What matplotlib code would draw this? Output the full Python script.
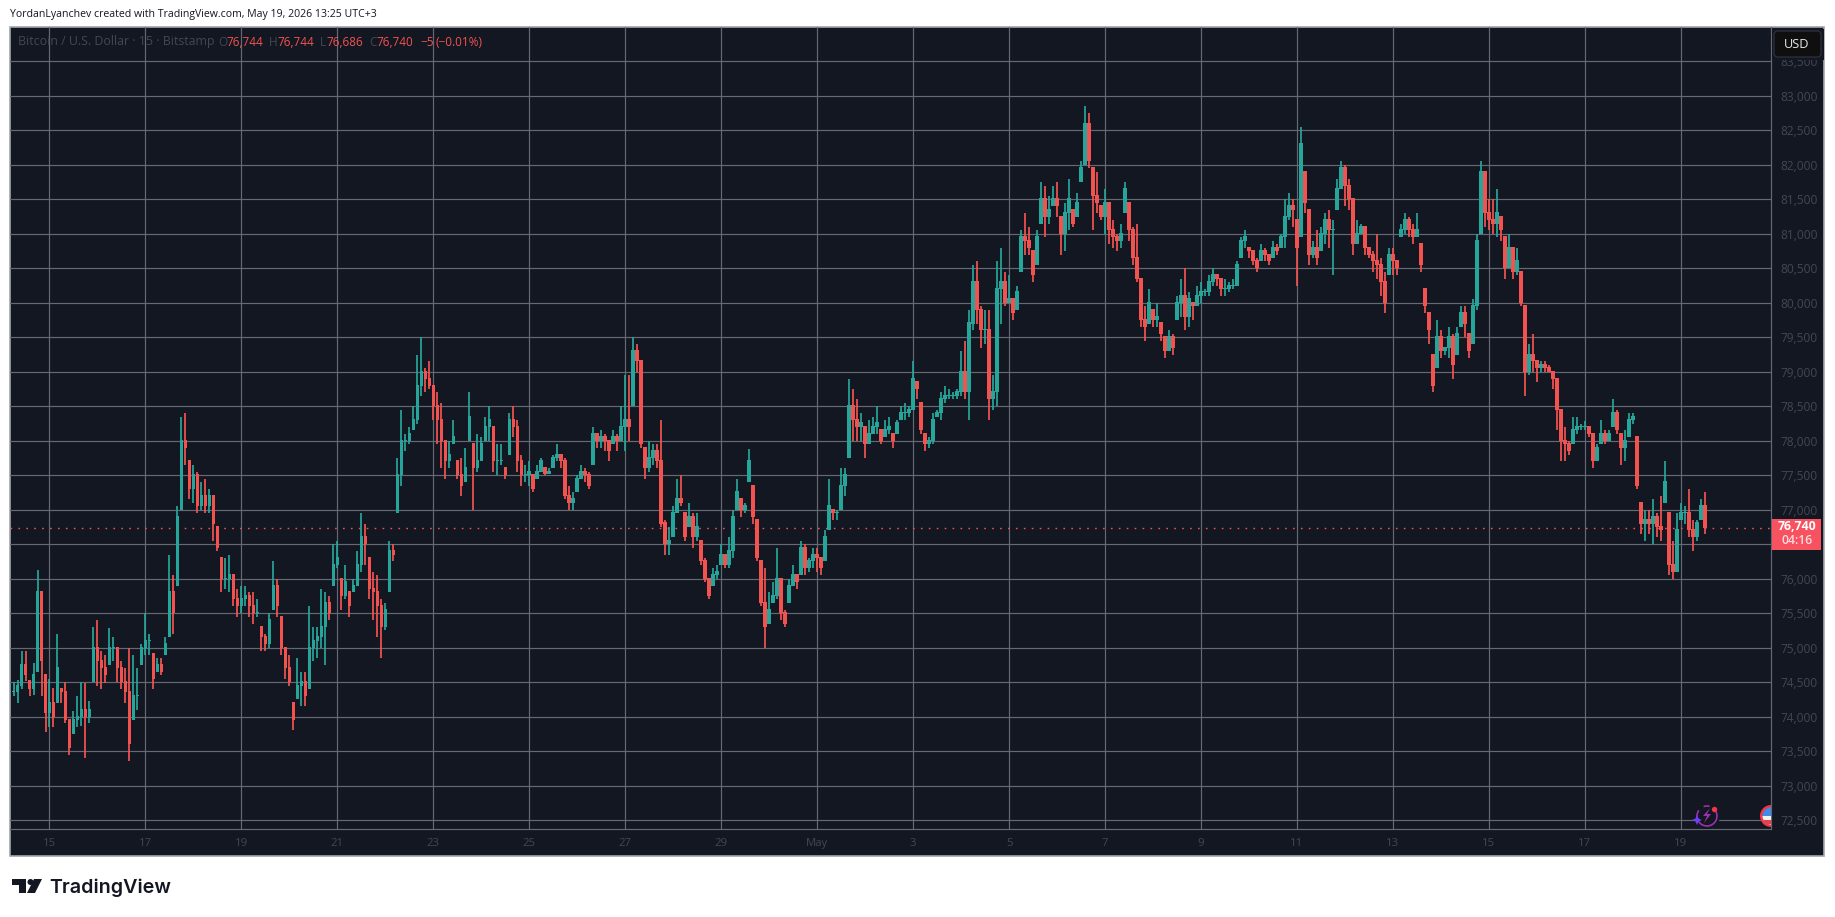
#!/usr/bin/python3
import numpy as np
import pandas as pd
import matplotlib
matplotlib.use('Agg')
import matplotlib.pyplot as plt
import matplotlib.dates as mdates
from matplotlib.patches import Rectangle, Circle, Wedge, Polygon, FancyBboxPatch, Arc
from matplotlib.transforms import Affine2D

# 2 hour candles, one row per day
highs = [
    74500, 74530, 74950, 74950, 74520, 74780, 76120, 75800, 74600,  # Apr 14
    74550, 74420, 75200, 74400, 74500, 73950, 74080, 74300, 74500, 74480, 74220, 75300,  # Apr 15
    75400, 74950, 74900, 75280, 75150, 75000, 74800, 74700, 75000, 74900, 74700, 75050,  # Apr 16
    75500, 75200, 74900, 74850, 74850, 75150, 76350, 76050, 77050, 78350, 78400, 77700,  # Apr 17
    77650, 77550, 77400, 77450, 77300, 77200, 76750, 76300, 76300, 76350, 76050, 75850,  # Apr 18
    75900, 75900, 75800, 75800, 75700, 75300, 75200, 75500, 76250, 76000, 75450, 75000,  # Apr 19
    74900, 74200, 74850, 74650, 74650, 75600, 75300, 75300, 75850, 75800, 75750, 76500,  # Apr 20
    76550, 76000, 76200, 75800, 76000, 76400, 76950, 76800, 76300, 76100, 76050, 75700,  # Apr 21
    75650, 76550, 76500, 77750, 78450, 78100, 78200, 78500, 79250, 79500, 79050, 79150,  # Apr 22
    78800, 78700, 78550, 78000, 78000, 78300, 77700, 77750, 77900, 78700, 77950, 78100,  # Apr 23
    78050, 78350, 78500, 78200, 77950, 77950, 77600, 78400, 78500, 78300, 77800, 77650,  # Apr 24
    77700, 77500, 77650, 77750, 77600, 77600, 77800, 77950, 77800, 77750, 77350, 77250,  # Apr 25
    77500, 77650, 77600, 77550, 78200, 78100, 78150, 78100, 78000, 78150, 78100, 78500,  # Apr 26
    78950, 78950, 79500, 79400, 79150, 77900, 78000, 77950, 77950, 78300, 76850, 76750,  # Apr 27
    77050, 77450, 77500, 76950, 77100, 76950, 76950, 76550, 76300, 76000, 76150, 76200,  # Apr 28
    76500, 76350, 76600, 77000, 77450, 77150, 77100, 77880, 77350, 76850, 76250, 76150,  # Apr 29
    75800, 75950, 76450, 76000, 75550, 76000, 76200, 76050, 76550, 76500, 76300, 76450,  # Apr 30
    76450, 76300, 76700, 77450, 77000, 77000, 77600, 77600, 78900, 78750, 78600, 78400,  # May 1
    78200, 78300, 78350, 78500, 78150, 78300, 78350, 78100, 78300, 78500, 78550, 78500,  # May 2
    79150, 78850, 78550, 78100, 78050, 78400, 78450, 78700, 78800, 78750, 78700, 78750,  # May 3
    79300, 79450, 79900, 80550, 80600, 79950, 79900, 79900, 78950, 80600, 80800, 80450,  # May 4
    80400, 80050, 80250, 81050, 81300, 81100, 80750, 81050, 81750, 81700, 81550, 81700,  # May 5
    81750, 81250, 81450, 81800, 81350, 81600, 82050, 82850, 82750, 81950, 81900, 81400,  # May 6
    81650, 81450, 81200, 81000, 81150, 81750, 81450, 81100, 81150, 80350, 79950, 80200,  # May 7
    79900, 80000, 79700, 79500, 79600, 79550, 80100, 80350, 80500, 80150, 80000, 80250,  # May 8
    80300, 80200, 80400, 80500, 80400, 80350, 80350, 80300, 80350, 80600, 80950, 81050,  # May 9
    80800, 80750, 80650, 80850, 80800, 80700, 80900, 80850, 81000, 81500, 81600, 81500,  # May 10
    81200, 82550, 81900, 81350, 80900, 81050, 81100, 81300, 81350, 81200, 81800, 82050,  # May 11
    82000, 81800, 81500, 81200, 81150, 81100, 80800, 80750, 81000, 80650, 80450, 80800,  # May 12
    80800, 80600, 81150, 81300, 81250, 81150, 81300, 80850, 80200, 79850, 79250, 79750,  # May 13
    79600, 79350, 79650, 79550, 79650, 79950, 79950, 79550, 80050, 81000, 82050, 81900,  # May 14
    81500, 81500, 81650, 81250, 80950, 81000, 80800, 80800, 80450, 79950, 79400, 79550,  # May 15
    79150, 79150, 79150, 79100, 79000, 78900, 78450, 78200, 78000, 78350, 78350, 78250,  # May 16
    78280, 78200, 78100, 77950, 78300, 78150, 78150, 78600, 78450, 78100, 78150, 78400,  # May 17
    78400, 78050, 77100, 77000, 77000, 77150, 76950, 77200, 77700, 76950, 76550, 76950,  # May 18
    77100, 77050, 77300, 76850, 76850, 77150, 77250,  # May 19
]
lows = [
    74300, 74200, 74400, 74520, 74300, 74320, 74650, 74300, 73780,  # Apr 14
    73850, 73850, 74200, 74200, 73900, 73450, 73750, 73850, 73860, 73400, 73900, 74500,  # Apr 15
    74450, 74400, 74480, 74750, 74800, 74500, 74400, 74200, 73350, 73950, 74100, 74750,  # Apr 16
    74900, 74900, 74400, 74650, 74600, 74900, 75150, 75200, 75900, 77000, 77650, 77150,  # Apr 17
    77100, 76950, 77000, 76950, 76950, 76550, 76400, 75800, 75850, 75800, 75600, 75450,  # Apr 18
    75500, 75600, 75450, 75350, 75450, 74950, 74950, 75000, 75550, 75450, 74900, 74550,  # Apr 19
    74450, 73800, 74250, 74150, 74150, 74400, 74800, 74850, 75000, 74750, 75400, 75900,  # Apr 20
    76150, 75550, 75700, 75450, 75800, 75900, 76100, 76200, 75700, 75400, 75150, 74850,  # Apr 21
    75250, 75800, 76250, 76950, 77350, 77850, 77950, 78150, 78250, 78650, 78700, 78750,  # Apr 22
    78300, 77950, 77600, 77450, 77600, 77950, 77450, 77200, 77400, 78000, 77000, 77550,  # Apr 23
    77700, 78000, 78000, 77550, 77500, 77650, 77450, 77800, 78050, 77550, 77350, 77400,  # Apr 24
    77350, 77250, 77450, 77550, 77500, 77520, 77600, 77700, 77600, 77150, 77000, 77000,  # Apr 25
    77250, 77450, 77400, 77300, 77650, 77900, 77900, 77850, 77700, 77950, 77850, 78000,  # Apr 26
    77850, 78000, 78500, 79000, 77900, 77450, 77550, 77650, 77600, 76750, 76350, 76350,  # Apr 27
    76600, 76950, 77050, 76550, 76750, 76450, 76550, 76200, 75950, 75700, 75900, 76000,  # Apr 28
    76200, 76150, 76150, 76300, 77000, 76900, 76950, 77400, 76800, 76250, 75600, 75000,  # Apr 29
    75350, 75650, 75700, 75400, 75300, 75650, 75900, 75850, 76050, 76050, 76100, 76150,  # Apr 30
    76100, 76050, 76250, 76700, 76850, 76850, 77000, 77200, 77750, 78000, 78000, 78000,  # May 1
    77750, 77950, 78100, 78100, 77950, 78050, 78100, 77900, 78100, 78300, 78300, 78350,  # May 2
    78450, 78600, 78100, 77850, 77900, 77950, 78350, 78300, 78550, 78600, 78600, 78600,  # May 3
    78650, 78600, 78300, 79600, 79700, 79350, 79400, 78300, 78450, 78500, 79700, 79950,  # May 4
    80000, 79750, 79900, 80450, 80700, 80700, 80300, 80550, 81150, 80950, 81150, 81400,  # May 5
    81250, 80700, 80750, 81050, 81100, 81250, 81750, 82000, 81950, 81050, 81300, 81200,  # May 6
    81000, 80850, 80800, 80750, 80800, 81300, 80900, 80550, 80300, 79650, 79450, 79700,  # May 7
    79650, 79650, 79450, 79200, 79300, 79250, 79750, 79800, 79600, 79650, 79750, 79950,  # May 8
    80000, 80100, 80100, 80250, 80250, 80100, 80100, 80150, 80200, 80250, 80650, 80800,  # May 9
    80650, 80550, 80450, 80600, 80600, 80550, 80650, 80700, 80800, 80800, 81200, 81100,  # May 10
    80250, 80950, 81300, 80550, 80650, 80550, 80750, 80850, 80800, 80400, 81350, 81650,  # May 11
    81400, 81350, 80700, 80850, 81000, 80700, 80650, 80450, 80350, 80100, 79850, 80400,  # May 12
    80400, 80400, 80950, 81000, 80950, 80850, 80950, 80450, 79850, 79400, 78700, 79050,  # May 13
    79200, 79250, 79200, 78900, 79250, 79650, 79500, 79200, 79400, 79900, 81000, 81100,  # May 14
    81050, 81000, 80950, 80900, 80350, 80500, 80350, 80400, 79950, 78650, 78950, 79000,  # May 15
    78850, 79000, 79000, 79000, 78750, 78150, 77700, 77700, 77800, 77950, 78100, 78150,  # May 16
    78150, 78050, 77600, 77700, 77950, 77950, 78000, 78200, 78100, 77650, 77700, 78050,  # May 17
    78250, 77300, 76650, 76550, 76650, 76500, 76600, 76550, 77100, 76050, 76000, 76100,  # May 18
    76850, 76800, 76600, 76400, 76550, 76850, 76650,  # May 19
]
closes = [
    74350, 74450, 74750, 74600, 74400, 74600, 75800, 74800, 74050,  # Apr 14
    74200, 74000, 74700, 74350, 73950, 73550, 73950, 74000, 74100, 74000, 74100, 75000,  # Apr 15
    74800, 74700, 74600, 75000, 75000, 74700, 74500, 74350, 73600, 74300, 74300, 75000,  # Apr 16
    75100, 75100, 74550, 74750, 74650, 75050, 75800, 75500, 76900, 78000, 77900, 77300,  # Apr 17
    77500, 77050, 77200, 77050, 77200, 76800, 76450, 76000, 76000, 76050, 75700, 75600,  # Apr 18
    75700, 75750, 75600, 75500, 75500, 75150, 75050, 75400, 75900, 75600, 75000, 74700,  # Apr 19
    74500, 73950, 74450, 74500, 74300, 75000, 75100, 75150, 75300, 75650, 75500, 76200,  # Apr 20
    76300, 75750, 75950, 75600, 75900, 76200, 76600, 76500, 75850, 75800, 75600, 75300,  # Apr 21
    75550, 76400, 76350, 77500, 78000, 78000, 78100, 78300, 78800, 79000, 78900, 78800,  # Apr 22
    78500, 78300, 78000, 77700, 77800, 78050, 77500, 77350, 77600, 78350, 77600, 77700,  # Apr 23
    77950, 78200, 78300, 77700, 77700, 77700, 77500, 78300, 78200, 77700, 77500, 77500,  # Apr 24
    77550, 77300, 77550, 77700, 77520, 77550, 77750, 77800, 77700, 77200, 77100, 77150,  # Apr 25
    77450, 77550, 77500, 77350, 78100, 78000, 78050, 78000, 77850, 78050, 78000, 78200,  # Apr 26
    78300, 78200, 79300, 79150, 77950, 77600, 77750, 77850, 77700, 76800, 76500, 76550,  # Apr 27
    76950, 77150, 77100, 76600, 76900, 76600, 76750, 76250, 76000, 75750, 76050, 76100,  # Apr 28
    76350, 76200, 76400, 76900, 77250, 77000, 77050, 77700, 76900, 76300, 75650, 75300,  # Apr 29
    75550, 75750, 76000, 75500, 75350, 75900, 76050, 75950, 76450, 76150, 76250, 76350,  # Apr 30
    76300, 76150, 76600, 77050, 76950, 76950, 77350, 77500, 78500, 78300, 78200, 78250,  # May 1
    77950, 78100, 78200, 78250, 78000, 78150, 78200, 78000, 78250, 78400, 78400, 78450,  # May 2
    78900, 78750, 78150, 77950, 78000, 78300, 78400, 78600, 78650, 78650, 78650, 78700,  # May 3
    79000, 78700, 79700, 80300, 79900, 79600, 79600, 78600, 78700, 80200, 80300, 80000,  # May 4
    80050, 79850, 80150, 80950, 80900, 80800, 80400, 80950, 81500, 81250, 81350, 81500,  # May 5
    81400, 81000, 81300, 81500, 81150, 81450, 81950, 82600, 82050, 81550, 81450, 81250,  # May 6
    81450, 81050, 80950, 80900, 81000, 81650, 81050, 80650, 80350, 79750, 79650, 80000,  # May 7
    79750, 79800, 79550, 79300, 79500, 79350, 80000, 80100, 79800, 80050, 79950, 80100,  # May 8
    80150, 80150, 80300, 80400, 80350, 80200, 80200, 80250, 80250, 80550, 80900, 80950,  # May 9
    80750, 80600, 80500, 80750, 80700, 80600, 80800, 80750, 80950, 81250, 81400, 81350,  # May 10
    80800, 82300, 81450, 80700, 80800, 80650, 81000, 81200, 81050, 81050, 81650, 81950,  # May 11
    81700, 81500, 80850, 81000, 81100, 80800, 80700, 80600, 80550, 80300, 80000, 80700,  # May 12
    80600, 80500, 81050, 81200, 81050, 80950, 81050, 80550, 79950, 79600, 78800, 79500,  # May 13
    79300, 79350, 79500, 79100, 79550, 79850, 79700, 79300, 79950, 80900, 81900, 81300,  # May 14
    81200, 81150, 81300, 81050, 80500, 80800, 80450, 80600, 80000, 79000, 79250, 79150,  # May 15
    79050, 79100, 79050, 79000, 78900, 78450, 78000, 77950, 77850, 78150, 78200, 78200,  # May 16
    78200, 78100, 77700, 77900, 78100, 78000, 78100, 78400, 78150, 77900, 78000, 78300,  # May 17
    78350, 77350, 76800, 76850, 76800, 76900, 76750, 76700, 77400, 76200, 76100, 76700,  # May 18
    76950, 76950, 76700, 76600, 76800, 77050, 76740,  # May 19
]

price_ticks = list(range(72500, 84000, 500))
date_ticks = ['2026-04-%02d' % d for d in range(15, 30, 2)] + ['2026-05-%02d' % d for d in range(1, 20, 2)]
date_labels = ['15', '17', '19', '21', '23', '25', '27', '29', 'May', '3', '5', '7', '9', '11', '13', '15', '17', '19']
last_price = 76740

UP = '#26a69a'
DOWN = '#f4524f'
BG = '#131722'
GRID = '#666973'
MUTED = '#44474f'
FONT = 'Open Sans'

W, H = 1835, 917
fig = plt.figure(figsize=(W / 100, H / 100), dpi=100, facecolor='white')
# pixel coordinates of the screenshot, origin top left
px = Affine2D().scale(1, -1).translate(0, H)

fig.add_artist(Rectangle((10, 27), 1814, 829, transform=px, fc=BG, ec='#a3a5ad', lw=1.2, zorder=-2))

ax = fig.add_axes([10 / W, (H - 829) / H, (1771 - 10) / W, (829 - 27) / H], facecolor='none')
ax.set_ylim(72370, 84000)
x_left = mdates.date2num(pd.Timestamp('2026-04-15')) - 39.5 / 47.98
x_right = x_left + (1771 - 10) / 47.98
ax.set_xlim(x_left, x_right)

t = mdates.date2num(pd.date_range('2026-04-14 06:00', periods=len(closes), freq='2h'))
h = np.array(highs, dtype=float)
l = np.array(lows, dtype=float)
c = np.array(closes, dtype=float)
o = np.clip(np.r_[c[0], c[:-1]], l, h)
col = np.where(c >= o, UP, DOWN)

ax.vlines(t, l, h, colors=col, lw=1.25, zorder=3)
ax.bar(t, np.abs(c - o) + 15, bottom=np.minimum(c, o), width=3.6 / 47.98, color=col, lw=0, zorder=3)

# the 76,500 label sits under the price tag
ax.set_yticks(price_ticks)
ax.set_yticklabels(['' if v == 76500 else '{:,}'.format(v) for v in price_ticks])
ax.yaxis.tick_right()
ax.set_xticks(mdates.date2num(pd.to_datetime(date_ticks)))
ax.set_xticklabels(date_labels)
ax.tick_params(axis='y', length=0, pad=6.5, labelsize=8.6, labelcolor=MUTED)
ax.tick_params(axis='x', length=0, pad=6.5, labelsize=8.2, labelcolor=MUTED)
for lab in ax.get_xticklabels() + ax.get_yticklabels():
    lab.set_fontfamily(FONT)
ax.grid(True, color=GRID, lw=0.85, zorder=1)
ax.set_axisbelow(True)
for s in ['top', 'left']:
    ax.spines[s].set_visible(False)
for s in ['right', 'bottom']:
    ax.spines[s].set_color(GRID)
    ax.spines[s].set_linewidth(0.85)

ax.axhline(last_price, color=DOWN, lw=1.0, ls=(0, (1.2, 4.5)), zorder=2)

# header, legend
fig.text(10 / W, (H - 15) / H, 'YordanLyanchev created with TradingView.com, May 19, 2026 13:25 UTC+3',
         family=FONT, fontsize=7.6, color='#131722', va='center')
legend_parts = [(18, 'Bitcoin / U.S. Dollar · 15 · Bitstamp', MUTED, 8.9), (218, 'O', MUTED, 8.5), (226, '76,744', DOWN, 8.5),
                (269, 'H', MUTED, 8.5), (277, '76,744', DOWN, 8.5), (320, 'L', MUTED, 8.5), (326, '76,686', DOWN, 8.5),
                (369, 'C', MUTED, 8.5), (376, '76,740', DOWN, 8.5), (420, '−5', DOWN, 8.5), (435, '(−0.01%)', DOWN, 8.5)]
for x0, txt, colr, size in legend_parts:
    fig.text(x0 / W, (H - 42) / H, txt, family=FONT, fontsize=size, color=colr, va='center')

# last price tag
fig.add_artist(Rectangle((1772, 519), 49, 31, transform=px, fc='#f7525f', ec='none', zorder=4))
fig.text(1797 / W, (H - 527) / H, '76,740', family=FONT, fontsize=8.8, weight='bold', color='white',
         ha='center', va='center', zorder=5)
fig.text(1797 / W, (H - 541) / H, '04:16', family=FONT, fontsize=8.8, weight='semibold', color='#fcd9dc',
         ha='center', va='center', zorder=5)

# currency button, it cuts off the top of the 83,500 label
fig.add_artist(Rectangle((1772, 29), 52, 31, transform=px, fc=BG, ec='none', zorder=3.5))
fig.add_artist(FancyBboxPatch((1777, 34), 41, 20, boxstyle='round,pad=3,rounding_size=4', transform=px,
                              fc='#0f0f0f', ec='#2a2e39', lw=1, zorder=4))
fig.text(1784 / W, (H - 44) / H, 'USD', family=FONT, fontsize=9.2, weight='medium', color='#e8e8e8',
         ha='left', va='center', zorder=5)

# event icons on the time scale
fig.add_artist(Circle((1707, 816), 13, transform=px, fc=BG, ec='none', zorder=4))
fig.add_artist(Arc((1707, 816), 20, 20, theta1=-40, theta2=215, transform=px, ec='#9c2fb0', lw=1.2, zorder=5))
fig.add_artist(Arc((1707, 816), 20, 20, theta1=250, theta2=285, transform=px, ec='#9c2fb0', lw=1.2, zorder=5))
fig.add_artist(Polygon([(1710, 808), (1703, 816), (1707, 816), (1704, 823), (1711, 814), (1707, 814)],
                       transform=px, fc='#9c2fb0', ec='none', zorder=5))
fig.add_artist(Polygon([(1697, 815), (1698.5, 818.5), (1702, 820), (1698.5, 821.5), (1697, 825),
                        (1695.5, 821.5), (1692, 820), (1695.5, 818.5)],
                       transform=px, fc='#6f3ff5', ec='none', zorder=5))
fig.add_artist(Circle((1714.5, 809.5), 2.7, transform=px, fc='#f23645', ec='none', zorder=6))
fig.add_artist(Wedge((1771, 816), 11, 90, 270, transform=px, fc='#f23645', ec='none', zorder=4))
fig.add_artist(Wedge((1771, 816), 8.5, 90, 180, transform=px, fc='#f2f2f2', ec='none', zorder=4))
fig.add_artist(Wedge((1771, 816), 8.5, 180, 270, transform=px, fc='#3d8de8', ec='none', zorder=4))
fig.add_artist(Rectangle((1764, 820), 7, 3.5, transform=px, fc='#e0434f', ec='none', zorder=4))

# logo
LOGO = '#131722'
fig.add_artist(Polygon([(12, 879), (26, 879), (26, 893), (19, 893), (19, 885), (12, 885)],
                       transform=px, fc=LOGO, ec='none'))
fig.add_artist(Circle((30.5, 882), 3, transform=px, fc=LOGO, ec='none'))
fig.add_artist(Polygon([(34, 879), (42, 879), (35, 893), (27, 893)], transform=px, fc=LOGO, ec='none'))
fig.text(49 / W, (H - 887.5) / H, 'TradingView', family='Inter', weight='semibold', fontsize=14.2, color=LOGO, va='center')

fig.savefig('out.png', dpi=100)
